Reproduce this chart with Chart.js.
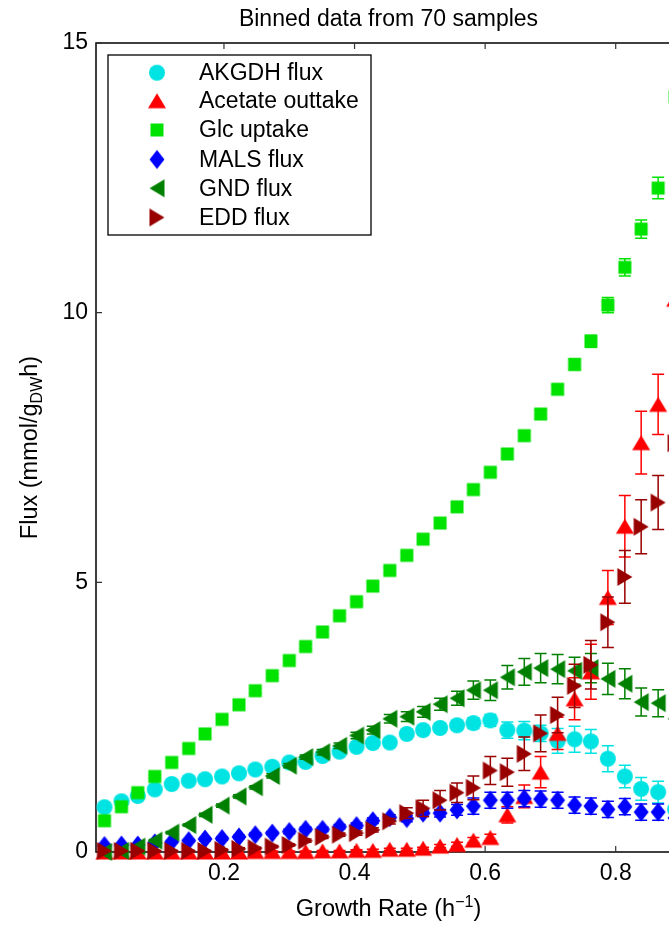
<!DOCTYPE html>
<html><head><meta charset="utf-8">
<script src="https://cdn.jsdelivr.net/npm/chart.js@4.4.1/dist/chart.umd.min.js"></script>
<style>
html,body{margin:0;padding:0;background:#fff;overflow:hidden;width:669px;height:926px}
#wrap{position:absolute;left:0;top:0;width:700px;height:926px}
</style>
</head><body><div id="wrap"><canvas id="c" width="700" height="926"></canvas></div>
<script>
// ---- data ----
const growthRate = [0.017,0.043,0.068,0.094,0.120,0.146,0.171,0.197,0.223,0.248,0.274,0.300,0.325,0.351,0.377,0.403,0.428,0.454,0.480,0.505,0.531,0.557,0.582,0.608,0.634,0.660,0.685,0.711,0.737,0.762,0.788,0.814,0.839,0.865,0.891];

const akgdh    = [0.83,0.94,1.04,1.16,1.26,1.32,1.35,1.40,1.46,1.53,1.58,1.66,1.67,1.78,1.86,1.95,2.02,2.03,2.19,2.26,2.30,2.35,2.39,2.44,2.26,2.25,2.20,2.06,2.09,2.05,1.73,1.40,1.17,1.11,0.79];
const akgdhErr = [0.03,0.03,0.03,0.03,0.03,0.03,0.04,0.04,0.04,0.04,0.05,0.05,0.05,0.05,0.06,0.06,0.06,0.07,0.07,0.08,0.08,0.09,0.10,0.11,0.15,0.17,0.15,0.23,0.24,0.22,0.24,0.21,0.21,0.20,0.22];

const acetate    = [0.00,0.00,0.00,0.00,0.00,0.00,0.00,0.00,0.00,0.01,0.01,0.01,0.01,0.02,0.02,0.03,0.03,0.05,0.05,0.07,0.11,0.14,0.22,0.27,0.69,1.03,1.48,2.20,2.84,3.34,4.72,6.04,7.59,8.30,10.25];
const acetateErr = [0.00,0.00,0.00,0.00,0.00,0.00,0.00,0.00,0.00,0.01,0.01,0.01,0.01,0.01,0.01,0.01,0.02,0.02,0.02,0.02,0.03,0.04,0.05,0.06,0.15,0.21,0.29,0.30,0.39,0.51,0.50,0.57,0.58,0.56,0.55];

const glc    = [0.58,0.84,1.10,1.40,1.66,1.92,2.19,2.46,2.73,2.99,3.27,3.55,3.81,4.08,4.38,4.64,4.93,5.22,5.50,5.80,6.10,6.40,6.72,7.04,7.38,7.72,8.12,8.58,9.04,9.47,10.14,10.84,11.55,12.31,14.00];
const glcErr = [0.03,0.03,0.03,0.03,0.03,0.03,0.03,0.03,0.04,0.04,0.04,0.04,0.04,0.05,0.05,0.05,0.05,0.05,0.06,0.06,0.06,0.06,0.07,0.07,0.07,0.08,0.08,0.09,0.10,0.11,0.14,0.16,0.17,0.20,0.20];

const mals    = [0.12,0.13,0.13,0.17,0.19,0.21,0.24,0.25,0.28,0.32,0.35,0.38,0.42,0.42,0.47,0.49,0.58,0.64,0.62,0.72,0.72,0.78,0.85,0.96,0.96,0.99,0.98,0.96,0.87,0.85,0.79,0.84,0.74,0.74,0.63];
const malsErr = [0.02,0.02,0.02,0.02,0.02,0.02,0.03,0.03,0.03,0.03,0.03,0.04,0.04,0.04,0.04,0.05,0.05,0.05,0.06,0.06,0.07,0.10,0.15,0.15,0.15,0.15,0.15,0.15,0.15,0.15,0.15,0.15,0.15,0.15,0.15];

const gnd    = [0.00,0.02,0.10,0.21,0.36,0.50,0.69,0.86,1.03,1.20,1.41,1.60,1.76,1.85,1.97,2.16,2.26,2.47,2.51,2.60,2.74,2.85,3.00,3.00,3.24,3.34,3.41,3.39,3.36,3.41,3.21,3.12,2.78,2.76,2.47];
const gndErr = [0.01,0.01,0.02,0.02,0.02,0.02,0.03,0.03,0.03,0.03,0.04,0.04,0.04,0.05,0.05,0.06,0.07,0.08,0.09,0.10,0.11,0.13,0.17,0.19,0.22,0.25,0.27,0.27,0.25,0.27,0.29,0.28,0.26,0.25,0.25];

const edd    = [0.02,0.02,0.02,0.02,0.02,0.02,0.02,0.04,0.06,0.07,0.10,0.13,0.21,0.28,0.32,0.35,0.41,0.57,0.72,0.81,0.96,1.10,1.19,1.51,1.48,1.82,2.20,2.54,3.08,3.47,4.26,5.10,6.03,6.48,7.58];
const eddErr = [0.01,0.01,0.01,0.01,0.01,0.01,0.01,0.01,0.02,0.02,0.02,0.02,0.03,0.03,0.03,0.04,0.04,0.05,0.10,0.15,0.18,0.18,0.22,0.26,0.26,0.31,0.34,0.33,0.40,0.45,0.47,0.49,0.50,0.50,0.50];

const seriesNames = ['AKGDH flux','Acetate outtake','Glc uptake','MALS flux','GND flux','EDD flux'];
const xTickValues = [0.2,0.4,0.6,0.8];
const yTickValues = [0,5,10,15];
const titleText = 'Binned data from 70 samples';

// ---- marker images ----
function makeMarker(kind, color){
  const S = 24, m = S/2;
  const c = document.createElement('canvas'); c.width = S; c.height = S;
  const g = c.getContext('2d'); g.fillStyle = color; g.beginPath();
  switch(kind){
    case 'circle': g.arc(m,m,8,0,Math.PI*2); break;
    case 'square': g.rect(m-6.5,m-6.5,13,13); break;
    case 'diamond': g.moveTo(m,m-9.5); g.lineTo(m+7.5,m); g.lineTo(m,m+9.5); g.lineTo(m-7.5,m); break;
    case 'up': g.moveTo(m,m-7.5); g.lineTo(m+9,m+7.5); g.lineTo(m-9,m+7.5); break;
    case 'left': g.moveTo(m-7.5,m); g.lineTo(m+7.5,m-9); g.lineTo(m+7.5,m+9); break;
    case 'right': g.moveTo(m+7.5,m); g.lineTo(m-7.5,m-9); g.lineTo(m-7.5,m+9); break;
  }
  g.closePath(); g.fill();
  return c;
}

const colors = ['#00e3e3','#ff0000','#00e300','#0000ff','#008000','#990000'];
const kinds  = ['circle','up','square','diamond','left','right'];
const values = [akgdh, acetate, glc, mals, gnd, edd];
const errs   = [akgdhErr, acetateErr, glcErr, malsErr, gndErr, eddErr];

const datasets = seriesNames.map((name, k) => ({
  label: name,
  data: growthRate.map((x, i) => ({x: x, y: values[k][i]})),
  errors: errs[k],
  pointStyle: makeMarker(kinds[k], colors[k]),
  marker: makeMarker(kinds[k], colors[k]),
  pointRadius: 9,
  borderColor: colors[k],
  backgroundColor: colors[k],
  showLine: false,
  clip: false,
  order: 6 - k
}));

const FONT = "'Liberation Sans', Arial, Helvetica, sans-serif";

const errorBars = {
  id: 'errorBars',
  beforeDatasetDraw(chart, args){
    const ds = chart.data.datasets[args.index];
    const {ctx, scales:{x, y}} = chart;
    ctx.save();
    ctx.strokeStyle = ds.borderColor; ctx.lineWidth = 1.5;
    ds.data.forEach((p, i) => {
      const e = ds.errors[i];
      if (!e || p.x > x.max) return;
      const px = x.getPixelForValue(p.x);
      const y1 = y.getPixelForValue(p.y - e), y2 = y.getPixelForValue(p.y + e);
      ctx.beginPath();
      ctx.moveTo(px, y1); ctx.lineTo(px, y2);
      ctx.moveTo(px-6, y1); ctx.lineTo(px+6, y1);
      ctx.moveTo(px-6, y2); ctx.lineTo(px+6, y2);
      ctx.stroke();
    });
    ctx.restore();
  }
};

const frame = {
  id: 'frame',
  beforeDatasetsDraw(chart){
    const {ctx, chartArea:a, scales:{x, y}} = chart;
    ctx.save();
    ctx.strokeStyle = '#000'; ctx.lineWidth = 1.5;
    ctx.strokeRect(a.left, a.top, a.right - a.left, a.bottom - a.top);
    ctx.strokeStyle = '#333'; ctx.lineWidth = 1.2;
    ctx.beginPath();
    x.ticks.forEach(t => {
      const px = x.getPixelForValue(t.value);
      ctx.moveTo(px, a.bottom); ctx.lineTo(px, a.bottom - 6);
      ctx.moveTo(px, a.top); ctx.lineTo(px, a.top + 6);
    });
    y.ticks.forEach(t => {
      const py = y.getPixelForValue(t.value);
      ctx.moveTo(a.left, py); ctx.lineTo(a.left + 6, py);
      ctx.moveTo(a.right, py); ctx.lineTo(a.right - 6, py);
    });
    ctx.stroke();
    ctx.restore();
  }
};

const texts = {
  id: 'texts',
  afterDraw(chart){
    const {ctx, chartArea:a} = chart;
    ctx.save();
    ctx.fillStyle = '#000';
    // title
    ctx.font = '23px ' + FONT; ctx.textAlign = 'center'; ctx.textBaseline = 'alphabetic';
    ctx.fillText(titleText, (a.left + a.right)/2, 26);
    // x label with superscript
    const cx = (a.left + a.right)/2, by = 916;
    const p1 = 'Growth Rate (h', p2 = '\u22121', p3 = ')';
    ctx.font = '23.5px ' + FONT; const w1 = ctx.measureText(p1).width, w3 = ctx.measureText(p3).width;
    ctx.font = '16px ' + FONT; const w2 = ctx.measureText(p2).width;
    let sx = cx - (w1 + w2 + w3)/2;
    ctx.textAlign = 'left';
    ctx.font = '23.5px ' + FONT; ctx.fillText(p1, sx, by); sx += w1;
    ctx.font = '16px ' + FONT; ctx.fillText(p2, sx, by - 9); sx += w2;
    ctx.font = '23.5px ' + FONT; ctx.fillText(p3, sx, by);
    // y label with subscript
    ctx.save();
    ctx.translate(37, (a.top + a.bottom)/2);
    ctx.rotate(-Math.PI/2);
    const q1 = 'Flux (mmol/g', q2 = 'DW', q3 = 'h)';
    ctx.font = '23.5px ' + FONT; const v1 = ctx.measureText(q1).width, v3 = ctx.measureText(q3).width;
    ctx.font = '16px ' + FONT; const v2 = ctx.measureText(q2).width;
    let tx = -(v1 + v2 + v3)/2;
    ctx.font = '23.5px ' + FONT; ctx.fillText(q1, tx, 0); tx += v1;
    ctx.font = '16px ' + FONT; ctx.fillText(q2, tx, 5); tx += v2;
    ctx.font = '23.5px ' + FONT; ctx.fillText(q3, tx, 0);
    ctx.restore();
    // legend
    const L = 108, T = 55, R = 371, B = 235;
    ctx.fillStyle = '#fff'; ctx.fillRect(L, T, R - L, B - T);
    ctx.strokeStyle = '#000'; ctx.lineWidth = 1.3; ctx.strokeRect(L, T, R - L, B - T);
    const rows = [72.7, 100.7, 130, 159.5, 188.3, 217.5];
    ctx.font = '23px ' + FONT; ctx.fillStyle = '#000'; ctx.textBaseline = 'middle'; ctx.textAlign = 'left';
    chart.data.datasets.forEach((ds, k) => {
      const m = ds.marker;
      ctx.drawImage(m, 157 - m.width/2, rows[k] - m.height/2);
      ctx.fillText(ds.label, 199, rows[k] + 1);
    });
    ctx.restore();
  }
};

new Chart(document.getElementById('c'), {
  type: 'scatter',
  data: { datasets },
  options: {
    responsive: false,
    animation: false,
    events: [],
    layout: { padding: { top: 43, left: 0, right: 19, bottom: 0 } },
    plugins: { legend: { display: false }, tooltip: { enabled: false }, title: { display: false } },
    scales: {
      x: {
        type: 'linear', min: 0.004, max: 0.9,
        grid: { display: false, drawTicks: false }, border: { display: false },
        afterBuildTicks: s => { s.ticks = xTickValues.map(v => ({value: v})); },
        afterFit: s => { s.height = 74; },
        ticks: { font: { family: FONT, size: 23 }, color: '#000', padding: 8, maxRotation: 0,
                 callback: v => String(v) }
      },
      y: {
        type: 'linear', min: 0, max: 15,
        grid: { display: false, drawTicks: false }, border: { display: false },
        afterBuildTicks: s => { s.ticks = yTickValues.map(v => ({value: v})); },
        afterFit: s => { s.width = 96; },
        ticks: { font: { family: FONT, size: 23 }, color: '#000', padding: 8,
                 callback: v => String(v) }
      }
    }
  },
  plugins: [errorBars, frame, texts]
});
</script>
</body></html>
